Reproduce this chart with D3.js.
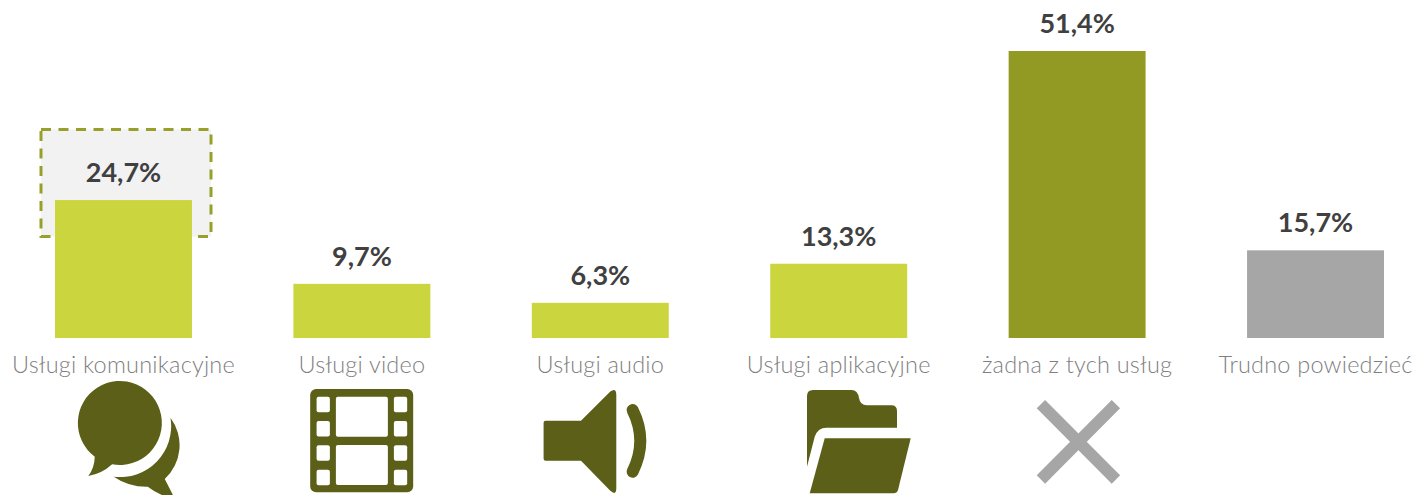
<!DOCTYPE html>
<html>
<head>
<meta charset="utf-8">
<script src="https://cdn.jsdelivr.net/npm/d3@7"></script>
<style>
  html, body { margin: 0; padding: 0; background: #fff; overflow: hidden; }
  svg { display: block; }
  text { font-family: Lato, "Open Sans", sans-serif; }
</style>
</head>
<body>
<div id="chart"></div>
<script>
const categories = ["Usługi komunikacyjne", "Usługi video", "Usługi audio", "Usługi aplikacyjne", "żadna z tych usług", "Trudno powiedzieć"];
const values = [24.7, 9.7, 6.3, 13.3, 51.4, 15.7];
const barColors = ["#cbd53d", "#cbd53d", "#cbd53d", "#cbd53d", "#939a23", "#a6a6a6"];

const width = 1414, height = 495;
const baseline = 338;
const iconY = 440;
const iconColor = "#5c5f17";

const x = d3.scaleBand()
  .domain(categories)
  .range([55, 1384])
  .paddingInner(0.4256);

const y = d3.scaleLinear()
  .domain([0, 51.4])
  .range([baseline, 51]);

const svg = d3.select("#chart").append("svg")
  .attr("width", width)
  .attr("height", height);

// highlight box behind the first bar
svg.append("rect")
  .attr("x", 41).attr("y", 129.5)
  .attr("width", 170).attr("height", 107)
  .attr("fill", "#f2f2f2")
  .attr("stroke", "#98a02a")
  .attr("stroke-width", 3)
  .attr("stroke-dasharray", "10 7.5");

svg.selectAll(".bar")
  .data(values)
  .join("rect")
  .attr("class", "bar")
  .attr("x", (d, i) => x(categories[i]))
  .attr("y", d => y(d))
  .attr("width", x.bandwidth())
  .attr("height", d => baseline - y(d))
  .attr("fill", (d, i) => barColors[i]);

const fmt = d => d.toFixed(1).replace(".", ",") + "%";

svg.selectAll(".value")
  .data(values)
  .join("text")
  .attr("class", "value")
  .attr("x", (d, i) => x(categories[i]) + x.bandwidth() / 2)
  .attr("y", d => y(d) - 18)
  .attr("text-anchor", "middle")
  .attr("font-size", 27)
  .attr("font-weight", 700)
  .attr("fill", "#404040")
  .text(fmt);

svg.selectAll(".label")
  .data(categories)
  .join("text")
  .attr("class", "label")
  .attr("x", d => x(d) + x.bandwidth() / 2)
  .attr("y", 373)
  .attr("text-anchor", "middle")
  .attr("font-size", 23.5)
  .attr("font-weight", 300)
  .attr("letter-spacing", 0.2)
  .attr("fill", "#7f7f7f")
  .text(d => d);

// icons, drawn relative to the centre of their bar
const icon = i => svg.append("g")
  .attr("transform", `translate(${x(categories[i]) + x.bandwidth() / 2},${iconY})`)
  .attr("fill", iconColor);

const chat = icon(0);
chat.append("path").attr("d", "M-28.7,16.7 A42,42 0 1 1 -11.3,24.3 Q-22,34 -35.2,36 Q-29,28 -28.7,16.7 Z");
chat.append("path").attr("d", "M47,-22.3 A46,46 0 0 1 41.3,39 L52,60 Q35,55 24.3,46.7 Q5,47 -9.7,36.7 A51,51 0 0 0 47,-22.3 Z");

const film = icon(1);
film.append("rect").attr("x", -51.7).attr("y", -51).attr("width", 103).attr("height", 103.3).attr("rx", 6);
[-45.3, 32].forEach(cx => [-43.3, -19, 5.3, 29.7].forEach(cy => {
  film.append("rect").attr("x", cx).attr("y", cy).attr("width", 13.3).attr("height", 15.5).attr("rx", 2).attr("fill", "#fff");
}));
[-43.3, 5].forEach(cy => {
  film.append("rect").attr("x", -26).attr("y", cy).attr("width", 52).attr("height", 40).attr("rx", 2).attr("fill", "#fff");
});

const speaker = icon(2);
speaker.append("path").attr("d", "M-56.7,-17.3 Q-56.7,-19.3 -54.7,-19.3 L-19.3,-19.3 L10,-48.5 Q16,-53 16,-45 L16,48.3 Q16,56 10,50.8 L-19.3,20.7 L-54.7,20.7 Q-56.7,20.7 -56.7,18.7 Z");
speaker.append("path").attr("d", "M32.3,-30 Q47.7,0.8 32.3,31.7")
  .attr("fill", "none").attr("stroke", iconColor).attr("stroke-width", 12).attr("stroke-linecap", "round");

const folder = icon(3);
folder.append("path").attr("d", "M-31.7,-44 Q-31.7,-50 -25.7,-50 L13,-50 Q19,-50 20.3,-42 Q21.5,-34.7 28,-34.7 L52.7,-34.7 Q58.3,-34.7 58.3,-29 L58.3,-12.3 L-12.3,-12.3 Q-21,-12.3 -24,-3.3 L-31.7,26.7 Z");
folder.append("path").attr("d", "M-14,-1.7 L72,-1.7 L59.3,50 Q58,53.3 55,53.3 L-29,53.3 Z");

icon(4).append("path")
  .attr("d", "M-36.2,-35.8 L38.8,39.5 M38.8,-35.8 L-36.2,39.5")
  .attr("fill", "none").attr("stroke", "#a6a6a6").attr("stroke-width", 11.8);
</script>
</body>
</html>
